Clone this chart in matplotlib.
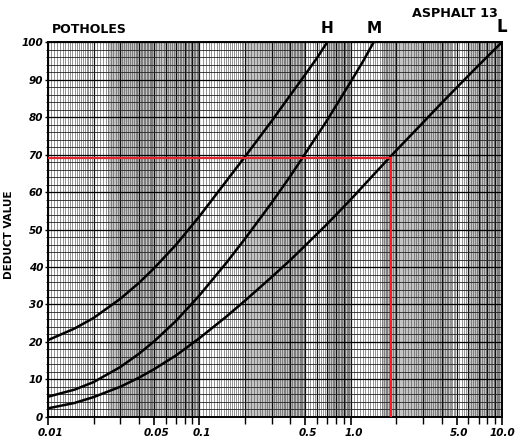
import numpy as np
import matplotlib
matplotlib.use('Agg')
import matplotlib.pyplot as plt
import matplotlib.transforms as mtransforms
from matplotlib.ticker import FixedLocator, NullFormatter

# Curvas de valor deducido
h_x = [0.01, 0.015, 0.02, 0.03, 0.04, 0.05, 0.07, 0.1, 0.15, 0.2, 0.3, 0.4, 0.5, 0.6, 0.7]
h_y = [20.5, 23.6, 26.4, 31.5, 35.8, 39.6, 45.9, 53.5, 62.8, 69.4, 78.9, 85.9, 91.3, 95.8, 100.0]

m_x = [0.01, 0.015, 0.02, 0.03, 0.04, 0.05, 0.07, 0.1, 0.15, 0.2, 0.3, 0.4, 0.5, 0.7, 1.0, 1.2, 1.42]
m_y = [5.4, 7.3, 9.3, 13.3, 16.9, 20.1, 25.6, 32.4, 41.0, 47.5, 57.1, 64.3, 70.2, 79.2, 89.4, 94.7, 100.0]

l_x = [0.01, 0.015, 0.02, 0.03, 0.04, 0.05, 0.07, 0.1, 0.15, 0.2, 0.3, 0.4, 0.5, 0.7,
       1.0, 1.5, 2.0, 3.0, 4.0, 5.0, 7.0, 10.0]
l_y = [2.3, 3.75, 5.3, 8.05, 10.5, 12.7, 16.4, 21.0, 26.7, 31.0, 37.3, 41.9, 45.7, 51.5,
       58.0, 65.7, 71.1, 78.5, 83.8, 87.8, 93.8, 100.0]

# Ejemplo de lectura (linea roja)
ejemplo_x = 1.85
ejemplo_y = 69.0

x_ticks = [0.01, 0.05, 0.1, 0.5, 1.0, 5.0, 10.0]
x_tick_labels = ['0.01', '0.05', '0.1', '0.5', '1.0', '5.0', '10.0']
y_ticks = [0, 10, 20, 30, 40, 50, 60, 70, 80, 90, 100]

fig = plt.figure(figsize=(5.16, 4.38), dpi=100)
ax = fig.add_axes([0.093, 0.048, 0.880, 0.856])
ax.set_xscale('log')
ax.set_xlim(0.01, 10.0)
ax.set_ylim(0, 100)

# Zonas oscuras del escaneo
for a, b in [(0.025, 0.1), (0.2, 0.5), (0.7, 1.0), (1.6, 4.5), (6.0, 10.0)]:
    ax.axvspan(a, b, color='#c4c4c4', lw=0, zorder=0)

# Papel semilogaritmico
finas = []
gruesas = []
for base in [0.01, 0.1, 1.0]:
    for k in np.arange(1.0, 2.0, 0.05):
        finas.append(base * k)
    for k in np.arange(2.0, 5.0, 0.1):
        finas.append(base * k)
    for k in np.arange(5.0, 10.0, 0.2):
        finas.append(base * k)
    for k in range(1, 10):
        gruesas.append(base * k)
ax.vlines(finas, 0, 100, colors='#555555', lw=0.45, zorder=1)
ax.vlines(gruesas, 0, 100, colors='#111111', lw=0.9, zorder=1)
ax.hlines(np.arange(0, 101, 2), 0.01, 10.0, colors='#222222', lw=0.6, zorder=1)
ax.hlines(np.arange(0, 101, 10), 0.01, 10.0, colors='#000000', lw=0.9, zorder=1)

# Curvas
for xs, ys in [(h_x, h_y), (m_x, m_y), (l_x, l_y)]:
    ax.plot(xs, ys, color='black', lw=1.8, zorder=3, solid_joinstyle='round')

# Linea roja del ejemplo
ax.plot([0.01, ejemplo_x], [ejemplo_y, ejemplo_y], color='#e3262e', lw=1.6, zorder=4)
ax.plot([ejemplo_x, ejemplo_x], [0, ejemplo_y], color='#e3262e', lw=1.6, zorder=4)

# Ejes
for s in ax.spines.values():
    s.set_linewidth(1.4)
ax.xaxis.set_major_locator(FixedLocator(x_ticks))
menores = [b * k for b in [0.01, 0.1, 1.0] for k in range(2, 10)]
ax.xaxis.set_minor_locator(FixedLocator(menores))
ax.xaxis.set_minor_formatter(NullFormatter())
ax.set_xticklabels(x_tick_labels, fontsize=7.5, fontweight='bold', style='italic')
ax.tick_params(axis='x', which='major', length=6, width=1.2, pad=2)
ax.tick_params(axis='x', which='minor', length=5, width=1.0)
offset = mtransforms.ScaledTranslation(3 / 100, 0, fig.dpi_scale_trans)
for lab in ax.get_xticklabels()[:-1]:
    lab.set_transform(lab.get_transform() + offset)

ax.set_yticks(y_ticks)
ax.set_yticklabels([str(v) for v in y_ticks], fontsize=7.5, fontweight='bold', style='italic')
ax.set_yticks(np.arange(0, 101, 2), minor=True)
ax.tick_params(axis='y', which='major', length=2, width=1.0, pad=1.5)
ax.tick_params(axis='y', which='minor', length=1.5, width=0.6)
ax.set_ylabel('DEDUCT VALUE', fontsize=7.5, fontweight='bold')
ax.yaxis.set_label_coords(-0.075, 0.485)

# Textos
fig.text(0.101, 0.932, 'POTHOLES', fontsize=9, fontweight='bold', ha='left', va='center')
fig.text(0.965, 0.970, 'ASPHALT 13', fontsize=9.2, fontweight='bold', ha='right', va='center')
ax.text(h_x[-1], 101.5, 'H', fontsize=11, fontweight='bold', ha='center', va='bottom')
ax.text(m_x[-1], 101.5, 'M', fontsize=11, fontweight='bold', ha='center', va='bottom')
ax.text(l_x[-1], 101.5, 'L', fontsize=12, fontweight='bold', ha='center', va='bottom')

plt.savefig('out.png', dpi=100)
